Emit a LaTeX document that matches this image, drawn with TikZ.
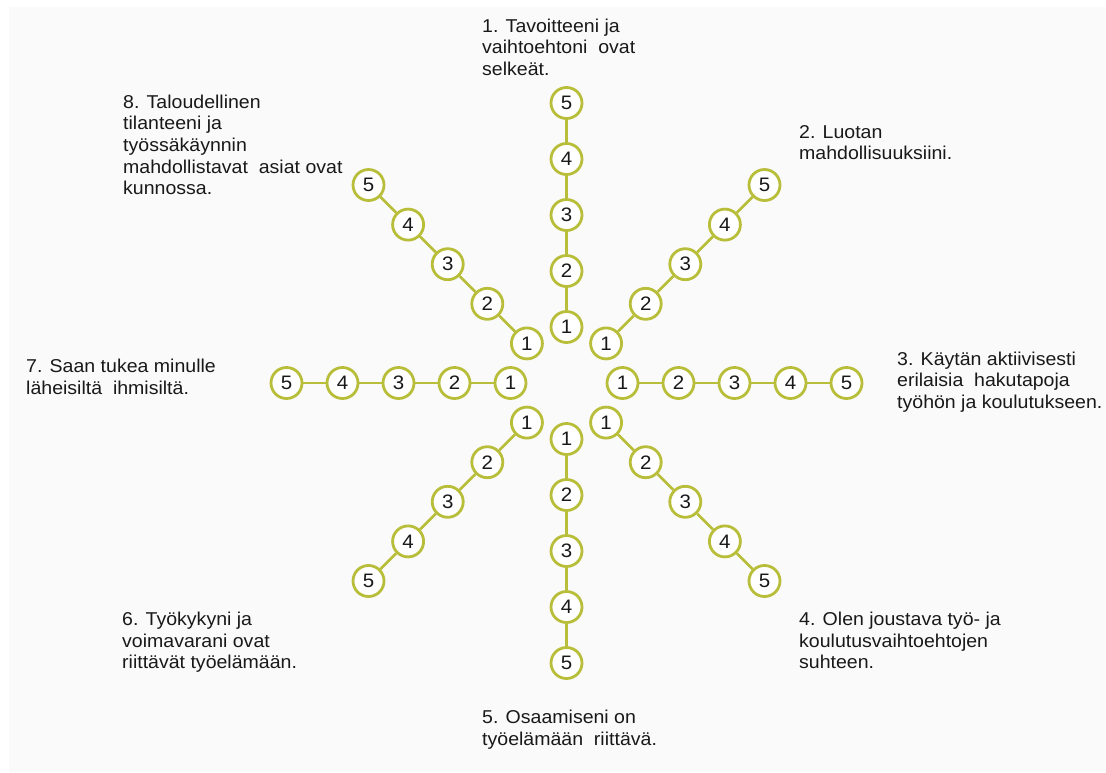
\documentclass[tikz,border=0pt]{standalone}
\usepackage{fontspec}
\setmainfont[FakeStretch=1.05]{Liberation Sans}
\usetikzlibrary{calc}
\definecolor{spokecol}{RGB}{184,190,58}
\definecolor{bggray}{RGB}{250,250,250}
\definecolor{txt}{RGB}{25,25,25}
\begin{document}
\begin{tikzpicture}[x=1pt,y=-1pt,
  num/.style={circle,draw=spokecol,line width=2.8pt,fill=white,minimum size=31pt,inner sep=0pt,font=\fontsize{19.5}{19.5}\selectfont,text=txt},
  link/.style={draw=spokecol,line width=2.8pt},
  lbl/.style={anchor=base west,align=left,inner sep=0pt,font=\fontsize{18.6}{21.7}\selectfont,text=txt}]
\useasboundingbox (0,0) rectangle (1106,772);
\fill[white] (0,0) rectangle (1106,772);
\fill[bggray] (9,7) rectangle (1106,772);
\coordinate (c) at (566.5,383);
\foreach \s/\a in {1/-90,2/-45,3/0,4/45,5/90,6/135,7/180,8/-135}{
  \foreach \k [evaluate=\k as \r using 56*\k] in {1,...,5}{
    \node[num] (s\s-\k) at ($(c)+(\a:\r)$) {\k};
  }
  \foreach \k [evaluate=\k as \j using int(\k+1)] in {1,...,4}{
    \draw[link] (s\s-\k) -- (s\s-\j);
  }
}
% base anchor = baseline of the last line
\node[lbl] (t1) at (482,75.4) {1. Tavoitteeni ja\\vaihtoehtoni~ ovat\\selkeät.};
\node[lbl] (t2) at (799,159.7) {2. Luotan\\mahdollisuuksiini.};
\node[lbl] (t3) at (897,408.4) {3. Käytän aktiivisesti\\erilaisia~ hakutapoja\\työhön ja koulutukseen.};
\node[lbl] (t4) at (799,668.9) {4. Olen joustava työ- ja\\koulutusvaihtoehtojen\\suhteen.};
\node[lbl] (t5) at (482,745.2) {5. Osaamiseni on\\työelämään~ riittävä.};
\node[lbl] (t6) at (122,668.9) {6. Työkykyni ja\\voimavarani ovat\\riittävät työelämään.};
\node[lbl] (t7) at (26,394.2) {7. Saan tukea minulle\\läheisiltä~ ihmisiltä.};
\node[lbl] (t8) at (123,194.8) {8. Taloudellinen\\tilanteeni ja\\työssäkäynnin\\mahdollistavat~ asiat ovat\\kunnossa.};
\end{tikzpicture}
\end{document}
